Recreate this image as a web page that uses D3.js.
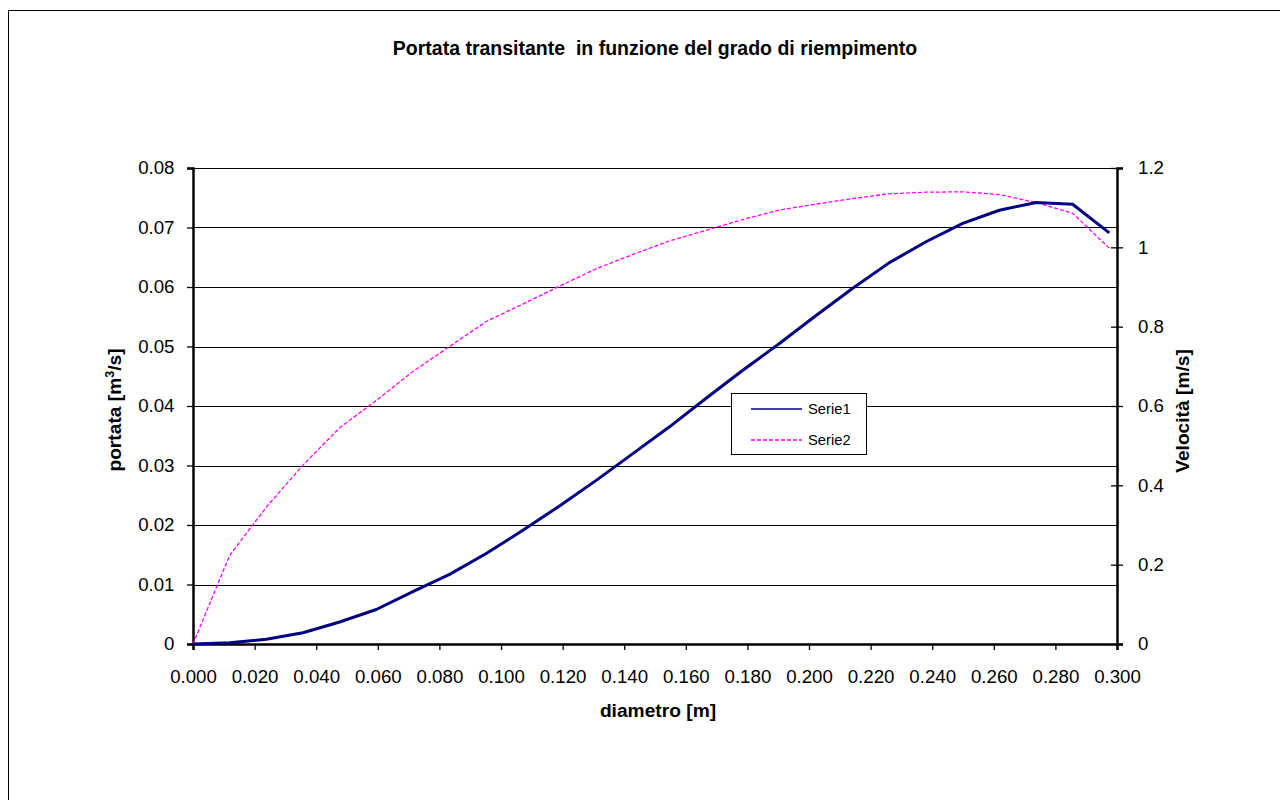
<!DOCTYPE html>
<html>
<head>
<meta charset="utf-8">
<script src="https://cdn.jsdelivr.net/npm/d3@7"></script>
<style>
  html, body { margin: 0; padding: 0; background: #fff; }
  svg { display: block; font-family: Arial, "Liberation Sans", sans-serif; }
</style>
</head>
<body>
<svg id="chart" width="1280" height="800"></svg>
<script>
// Filling depth (diameter axis) in metres
const diametro = [0, 0.0119, 0.0238, 0.0357, 0.0476, 0.0595, 0.0714, 0.0833, 0.0952, 0.1071,
  0.1190, 0.1309, 0.1428, 0.1547, 0.1666, 0.1785, 0.1904, 0.2023, 0.2142, 0.2261,
  0.2380, 0.2499, 0.2618, 0.2737, 0.2856, 0.2975];
// Serie1: discharge [m3/s]
const portata = [0, 0.0002, 0.0008, 0.0019, 0.0037, 0.0058, 0.0088, 0.0117, 0.0152, 0.0191,
  0.0232, 0.0275, 0.0320, 0.0365, 0.0413, 0.0460, 0.0505, 0.0552, 0.0598, 0.0641,
  0.0676, 0.0707, 0.0729, 0.0742, 0.0739, 0.0691];
// Serie2: velocity [m/s]
const velocita = [0, 0.2235, 0.345, 0.451, 0.545, 0.614, 0.687, 0.750, 0.813, 0.857,
  0.902, 0.946, 0.982, 1.016, 1.043, 1.070, 1.094, 1.109, 1.123, 1.135,
  1.139, 1.140, 1.133, 1.113, 1.086, 0.998];

const xTicks = d3.range(0, 0.3001, 0.02);
const yTicks = d3.range(0, 0.0801, 0.01);
const y2Ticks = d3.range(0, 1.2001, 0.2);
const seriesNames = ["Serie1", "Serie2"];

const svg = d3.select("#chart");
const plot = { left: 193, right: 1117, top: 168, bottom: 644 };
const tickFont = 18.7;
const titleFont = 19.2;

// Outer chart frame
svg.append("rect")
  .attr("x", 8.5).attr("y", 10.5)
  .attr("width", 1290).attr("height", 800)
  .attr("fill", "none").attr("stroke", "#000").attr("stroke-width", 1);

const x = d3.scaleLinear().domain([0, 0.3]).range([plot.left, plot.right]);
const y = d3.scaleLinear().domain([0, 0.08]).range([plot.bottom, plot.top]);
const y2 = d3.scaleLinear().domain([0, 1.2]).range([plot.bottom, plot.top]);

// Horizontal gridlines
svg.append("g").selectAll("line")
  .data(yTicks.slice(1))
  .join("line")
  .attr("x1", plot.left).attr("x2", plot.right)
  .attr("y1", d => Math.round(y(d)) + 0.5).attr("y2", d => Math.round(y(d)) + 0.5)
  .attr("stroke", "#000").attr("stroke-width", 1.2);

// Left axis
const gLeft = svg.append("g")
  .attr("transform", `translate(${plot.left},0)`)
  .call(d3.axisLeft(y).tickValues(yTicks).tickSize(6).tickPadding(12.5)
    .tickFormat(d => d === 0 ? "0" : d3.format(".2f")(d)));
gLeft.select(".domain").attr("stroke-width", 2.5);

// Right axis (ticks cross the line)
const gRight = svg.append("g")
  .attr("transform", `translate(${plot.right},0)`)
  .call(d3.axisRight(y2).tickValues(y2Ticks).tickSize(6).tickPadding(15)
    .tickFormat(d => d3.format("~g")(+d.toFixed(1))));
gRight.select(".domain").attr("stroke-width", 2.5);
gRight.selectAll(".tick line").attr("x1", -6);

// Bottom axis
const gBottom = svg.append("g")
  .attr("transform", `translate(0,${plot.bottom})`)
  .call(d3.axisBottom(x).tickValues(xTicks).tickSize(6).tickPadding(19.5)
    .tickFormat(d3.format(".3f")));
gBottom.select(".domain").attr("stroke-width", 2.5);

[gLeft, gRight, gBottom].forEach(g => {
  g.selectAll("text").attr("font-size", tickFont).attr("fill", "#000")
    .attr("font-family", "Arial, 'Liberation Sans', sans-serif");
  g.selectAll(".tick line").attr("stroke", "#000").attr("stroke-width", 1.3);
  g.select(".domain").attr("stroke", "#000");
});

// Series lines
const linePortata = d3.line().x((d, i) => x(diametro[i])).y(d => y(d));
const lineVelocita = d3.line().x((d, i) => x(diametro[i])).y(d => y2(d));

svg.append("path")
  .datum(velocita)
  .attr("d", lineVelocita)
  .attr("fill", "none")
  .attr("stroke", "#ff00ff")
  .attr("stroke-width", 1.3)
  .attr("stroke-dasharray", "4,2");

svg.append("path")
  .datum(portata)
  .attr("d", linePortata)
  .attr("fill", "none")
  .attr("stroke", "#000080")
  .attr("stroke-width", 3)
  .attr("stroke-linejoin", "round");

// Title and axis titles
svg.append("text")
  .attr("x", 655).attr("y", 55)
  .attr("text-anchor", "middle")
  .attr("font-size", 19.5).attr("font-weight", "bold")
  .style("white-space", "pre")
  .text("Portata transitante  in funzione del grado di riempimento");

svg.append("text")
  .attr("x", 658).attr("y", 717)
  .attr("text-anchor", "middle")
  .attr("font-size", titleFont).attr("font-weight", "bold")
  .text("diametro [m]");

const yTitle = svg.append("text")
  .attr("transform", "translate(121,410) rotate(-90)")
  .attr("text-anchor", "middle")
  .attr("font-size", titleFont).attr("font-weight", "bold");
yTitle.append("tspan").text("portata [m");
yTitle.append("tspan").attr("font-size", 12.5).attr("dy", -7).text("3");
yTitle.append("tspan").attr("dy", 7).text("/s]");

svg.append("text")
  .attr("transform", "translate(1189,411) rotate(-90)")
  .attr("text-anchor", "middle")
  .attr("font-size", titleFont).attr("font-weight", "bold")
  .text("Velocità [m/s]");

// Legend
const legend = svg.append("g").attr("transform", "translate(731,393)");
legend.append("rect")
  .attr("x", 0.5).attr("y", 0.5).attr("width", 135).attr("height", 61)
  .attr("fill", "#fff").attr("stroke", "#000").attr("stroke-width", 1);
const legendStyles = [
  { color: "#000080", dash: null, width: 1.5 },
  { color: "#ff00ff", dash: "4,2", width: 1.5 }
];
seriesNames.forEach((name, i) => {
  const yy = 16 + i * 31;
  legend.append("line")
    .attr("x1", 20).attr("x2", 71).attr("y1", yy).attr("y2", yy)
    .attr("stroke", legendStyles[i].color)
    .attr("stroke-width", legendStyles[i].width)
    .attr("stroke-dasharray", legendStyles[i].dash);
  legend.append("text")
    .attr("x", 77).attr("y", yy + 5)
    .attr("font-size", 14.8)
    .text(name);
});
</script>
</body>
</html>
